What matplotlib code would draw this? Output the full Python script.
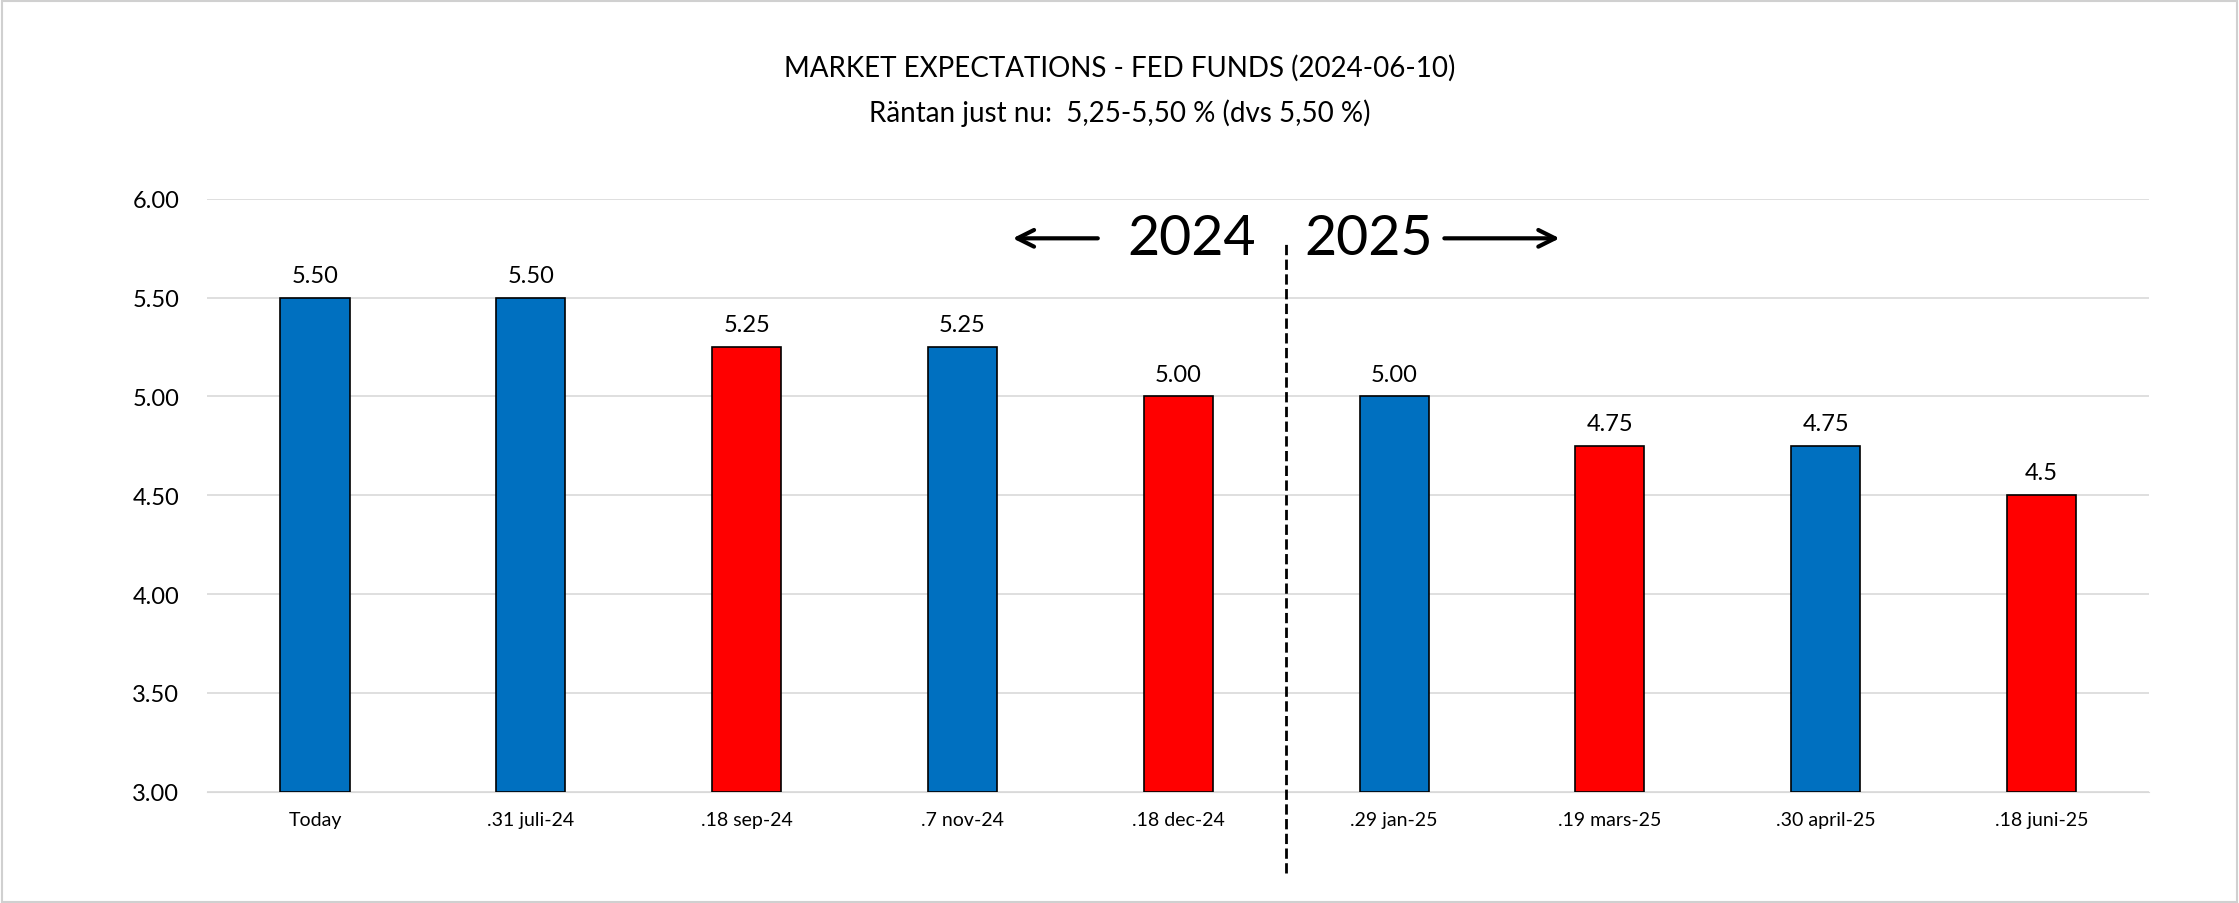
import matplotlib.pyplot as plt
from matplotlib.patches import Rectangle

plt.rcParams['font.family'] = ['Lato', 'DejaVu Sans']

dates = ['Today', '.31 juli-24', '.18 sep-24', '.7 nov-24', '.18 dec-24',
         '.29 jan-25', '.19 mars-25', '.30 april-25', '.18 juni-25']
rates = [5.50, 5.50, 5.25, 5.25, 5.00, 5.00, 4.75, 4.75, 4.50]
labels = ['5.50', '5.50', '5.25', '5.25', '5.00', '5.00', '4.75', '4.75', '4.5']
is_meeting_cut = [False, False, True, False, True, False, True, False, True]

blue = '#0070C0'
red = '#FF0000'

fig = plt.figure(figsize=(22.39, 9.04), dpi=100)
fig.patches.append(Rectangle((0.001, 0.001), 0.998, 0.997, transform=fig.transFigure,
                             fill=False, edgecolor='#d0d0d0', linewidth=1.5))
ax = fig.add_axes([0.0925, 0.123, 0.8675, 0.656])

x = range(len(dates))
colors = [red if c else blue for c in is_meeting_cut]
bars = ax.bar(x, [r - 3 for r in rates], bottom=3, width=0.32, color=colors,
              edgecolor='black', linewidth=1.2, zorder=3)
for xi, r, lab in zip(x, rates, labels):
    ax.text(xi, r + 0.06, lab, ha='center', va='bottom', fontsize=17)

ax.set_ylim(3, 6)
ax.set_xlim(-0.5, 8.5)
ax.set_yticks([3, 3.5, 4, 4.5, 5, 5.5, 6])
ax.set_yticklabels([f'{v:.2f}' for v in ax.get_yticks()], fontsize=17)
ax.set_xticks(list(x))
ax.set_xticklabels(dates, fontsize=14)
ax.tick_params(length=0, pad=14)
ax.tick_params(axis='y', pad=20)
ax.grid(axis='y', color='#d9d9d9', linewidth=1.2, zorder=0)
for s in ['top', 'right', 'left']:
    ax.spines[s].set_visible(False)
ax.spines['bottom'].set_color('#d9d9d9')

# year divider
ax.plot([4.5, 4.5], [2.59, 5.78], color='black', linestyle='--', linewidth=2,
        clip_on=False, zorder=4)
ax.text(4.06, 5.80, '2024', ha='center', va='center', fontsize=40)
ax.text(4.88, 5.80, '2025', ha='center', va='center', fontsize=40)
ax.annotate('', xy=(3.22, 5.80), xytext=(3.64, 5.80),
            arrowprops=dict(arrowstyle='->', lw=3, mutation_scale=30, color='black'))
ax.annotate('', xy=(5.78, 5.80), xytext=(5.22, 5.80),
            arrowprops=dict(arrowstyle='->', lw=3, mutation_scale=30, color='black'))

fig.text(0.5, 0.925, 'MARKET EXPECTATIONS - FED FUNDS (2024-06-10)', ha='center',
         va='center', fontsize=20)
fig.text(0.5, 0.875, 'Räntan just nu:  5,25-5,50 % (dvs 5,50 %)', ha='center',
         va='center', fontsize=20)

fig.savefig('out.png', dpi=100)
